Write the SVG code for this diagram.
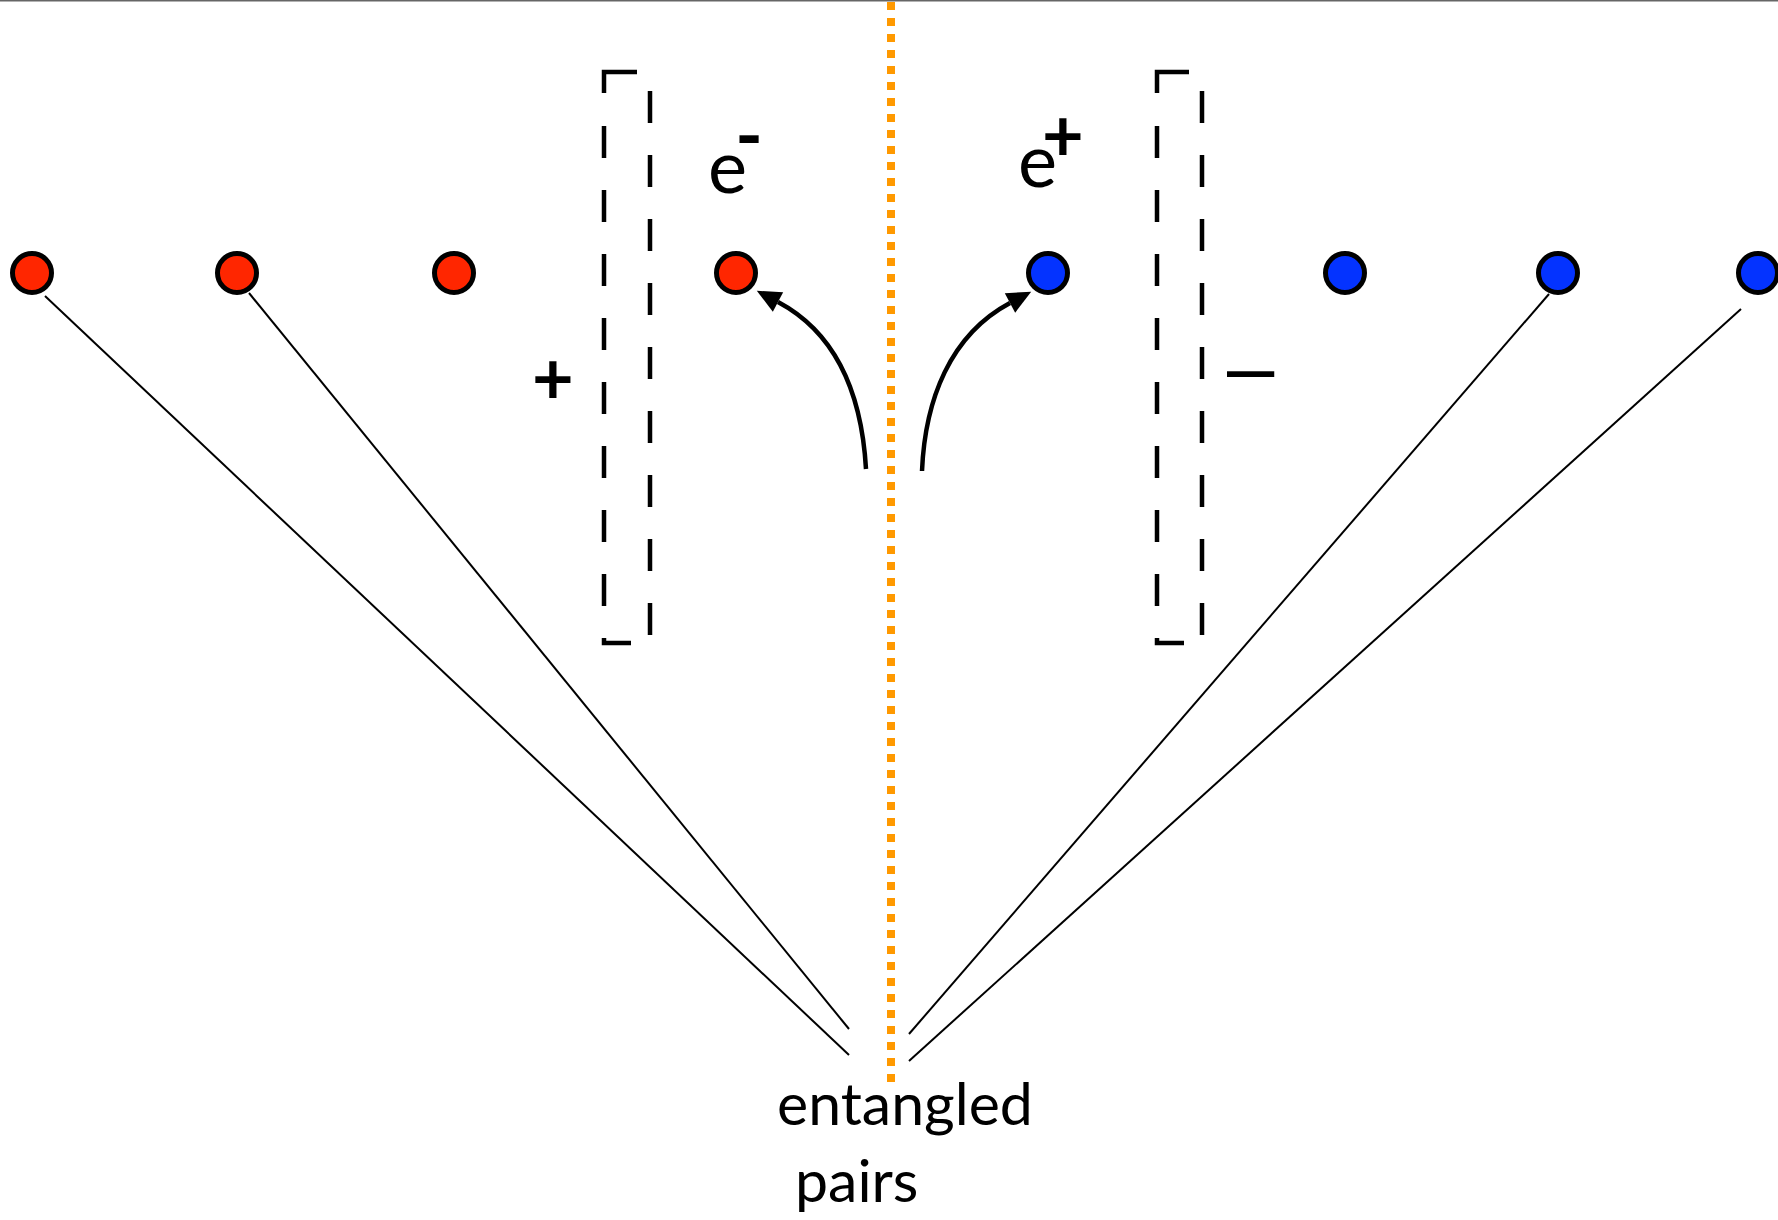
<svg xmlns="http://www.w3.org/2000/svg" width="1778" height="1220" viewBox="0 0 1778 1220">
  <style>
    .bg { fill: #ffffff; }
    .ele { fill: #ff2600; stroke: #000; stroke-width: 5; }
    .pos { fill: #0433ff; stroke: #000; stroke-width: 5; }
    .pair { stroke: #000; stroke-width: 2; fill: none; }
    .flow { stroke: #000; stroke-width: 4.5; fill: none; marker-end: url(#head); }
    .dash { stroke: #000; stroke-width: 4.5; fill: none; stroke-dasharray: 32 32; }
    .solid { stroke: #000; stroke-width: 4.5; fill: none; }
    .divider { stroke: #ff9900; stroke-width: 8; stroke-dasharray: 8 8; fill: none; }
    .lbl { font-family: Lato, "Open Sans", sans-serif; fill: #000; }
    .sign { font-family: Lato, "Open Sans", sans-serif; font-weight: 700; fill: #000; }
  </style>
  <defs>
    <marker id="head" markerUnits="userSpaceOnUse" viewBox="0 -15 30 30" refX="0" refY="0" markerWidth="30" markerHeight="30" orient="auto" overflow="visible">
      <path d="M0,-11 L24,0 L0,11 z" fill="#000"/>
    </marker>
  </defs>

  <rect class="bg" x="0" y="0" width="1778" height="1220"/>
  <line x1="0" y1="0.75" x2="1778" y2="0.75" stroke="#666" stroke-width="1.5"/>

  <!-- central boundary -->
  <line id="divider" class="divider" x1="891" y1="2" x2="891" y2="1082"/>

  <!-- field region brackets -->
  <g id="bracket-left">
    <path class="solid" d="M637,72 H604 V93"/>
    <path class="dash" d="M604,126 V643 H631"/>
    <line class="dash" x1="650" y1="91" x2="650" y2="640"/>
    <text class="sign" x="553" y="404" font-size="72" text-anchor="middle">+</text>
  </g>
  <g id="bracket-right">
    <path class="solid" d="M1189,72 H1157 V93"/>
    <path class="dash" d="M1157,126 V643 H1184"/>
    <line class="dash" x1="1202" y1="91" x2="1202" y2="640"/>
    <text x="1227" y="396" font-size="85" font-family="'Liberation Sans', Arial, sans-serif" fill="#000">–</text>
  </g>

  <!-- connectors -->
  <g id="connectors">
    <line class="pair" x1="45" y1="296" x2="849" y2="1055"/>
    <line class="pair" x1="249" y1="293" x2="849" y2="1029"/>
    <line class="pair" x1="1549" y1="294" x2="909" y2="1034"/>
    <line class="pair" x1="1741" y1="309" x2="909" y2="1061"/>
    <path class="flow" d="M866,469 C862,400 840,335 778,302"/>
    <path class="flow" d="M922,471 C925,400 950,335 1010,303"/>
  </g>

  <!-- electrons -->
  <g id="e1"><circle class="ele" cx="32" cy="273" r="19.5"/></g>
  <g id="e2"><circle class="ele" cx="237" cy="273" r="19.5"/></g>
  <g id="e3"><circle class="ele" cx="454" cy="273" r="19.5"/></g>
  <g id="e4">
    <circle class="ele" cx="736" cy="273" r="19.5"/>
    <text class="lbl" x="708" y="193" font-size="74">e<tspan x="749" y="162" text-anchor="middle" font-weight="700">-</tspan></text>
  </g>

  <!-- positrons -->
  <g id="p1">
    <circle class="pos" cx="1048" cy="273" r="19.5"/>
    <text class="lbl" x="1018" y="187" font-size="74">e<tspan x="1063" y="161" text-anchor="middle" font-weight="700" font-size="72">+</tspan></text>
  </g>
  <g id="p2"><circle class="pos" cx="1345" cy="273" r="19.5"/></g>
  <g id="p3"><circle class="pos" cx="1558" cy="273" r="19.5"/></g>
  <g id="p4"><circle class="pos" cx="1758" cy="273" r="19.5"/></g>

  <!-- source label -->
  <g id="source">
    <text class="lbl" x="777" y="1125" font-size="59">entangled</text>
    <text class="lbl" x="795" y="1202" font-size="59">pairs</text>
  </g>
</svg>
